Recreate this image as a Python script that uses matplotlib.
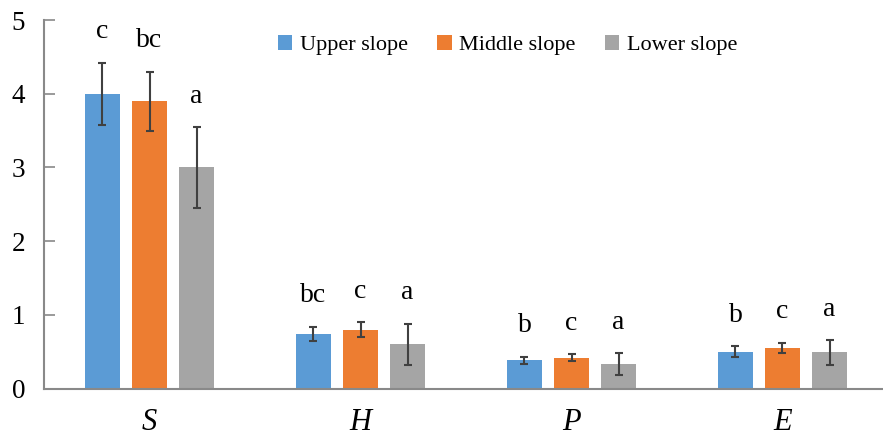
import numpy as np
import matplotlib
matplotlib.use("Agg")
import matplotlib.pyplot as plt

# ========== Data ==========
categories = ["S", "H", "P", "E"]
series_names = ["Upper slope", "Middle slope", "Lower slope"]

upper_mean = [4.00, 0.74, 0.38, 0.50]
upper_err = [0.42, 0.10, 0.05, 0.07]
upper_sig = ["c", "bc", "b", "b"]

middle_mean = [3.90, 0.80, 0.42, 0.55]
middle_err = [0.40, 0.10, 0.05, 0.07]
middle_sig = ["bc", "c", "c", "c"]

lower_mean = [3.00, 0.60, 0.33, 0.49]
lower_err = [0.55, 0.28, 0.15, 0.17]
lower_sig = ["a", "a", "a", "a"]

colors = ["#5B9BD5", "#ED7D31", "#A5A5A5"]

# ========== Figure ==========
plt.rcParams['font.family'] = ['Liberation Serif', 'DejaVu Serif']

fig = plt.figure(figsize=(8.83, 4.37), dpi=100)
ax = fig.add_axes([44 / 883, 48.5 / 437, 839 / 883, 368.5 / 437])

x = np.arange(len(categories))
width = 0.17
step = 0.223

means = [upper_mean, middle_mean, lower_mean]
errs = [upper_err, middle_err, lower_err]
sigs = [upper_sig, middle_sig, lower_sig]

for i in range(3):
    xpos = x + (i - 1) * step
    ax.bar(xpos, means[i], width, color=colors[i], label=series_names[i],
           yerr=errs[i], error_kw=dict(ecolor="#404040", elinewidth=1.5,
                                       capsize=3, capthick=1.5),
           zorder=2)
    # significance letters above the error bars
    for xp, m, e, s in zip(xpos, means[i], errs[i], sigs[i]):
        ax.text(xp, m + e + 0.33, s, ha="center", va="baseline", fontsize=20)

ax.set_xlim(-0.5, -0.5 + 4 * 839 / 844)
ax.set_ylim(0, 5)
ax.set_yticks([0, 1, 2, 3, 4, 5])
ax.set_xticks(x)
ax.set_xticklabels(categories, fontsize=22, style="italic")
ax.tick_params(axis="x", length=0, pad=14)
ax.tick_params(axis="y", direction="in", length=8, width=1.2,
               color="#898989", labelsize=19.5, pad=13.5)

for side in ["top", "right"]:
    ax.spines[side].set_visible(False)
for side in ["left", "bottom"]:
    ax.spines[side].set_color("#898989")
    ax.spines[side].set_linewidth(1.5)

ax.legend(loc="center left", bbox_to_anchor=(278 / 883, 1 - 45 / 437),
          bbox_transform=fig.transFigure, ncol=3, frameon=False,
          fontsize=16, handlelength=0.65, handleheight=0.65,
          handletextpad=0.35, columnspacing=1.3, borderpad=0,
          borderaxespad=0)

fig.savefig("out.png", dpi=100)
